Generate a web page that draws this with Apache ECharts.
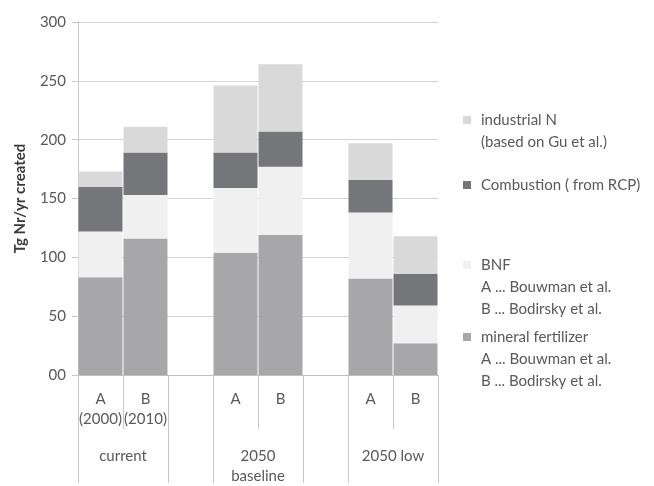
<!DOCTYPE html>
<html>
<head>
<meta charset="utf-8">
<script src="https://cdn.jsdelivr.net/npm/echarts@6/dist/echarts.min.js"></script>
<style>
  html, body { margin: 0; padding: 0; background: #fff; }
  #chart { width: 654px; height: 486px; }
</style>
</head>
<body>
<div id="chart"></div>
<script>
// bar slots: two per scenario, an empty slot between scenarios
var categories = ["A\n(2000)", "B\n(2010)", "", "A", "B", "", "A", "B"];
var groups = ["current", "2050\nbaseline", "2050 low"];
var groupCenters = [1, 4, 7];
var groupEdges = [0, 2, 3, 5, 6, 8];

var mineral = [83, 116, null, 104, 119, null, 82, 27];
var bnf = [39, 37, null, 55, 58, null, 56, 32];
var combustion = [38, 36, null, 30, 30, null, 28, 27];
var industrial = [13, 22, null, 57, 57, null, 31, 32];

var yTicks = [0, 50, 100, 150, 200, 250, 300];

var textColor = "#595959";
var font = "Lato";

var myChart = echarts.init(document.getElementById("chart"));

function barSeries(name, data, color) {
  return {
    name: name,
    type: "bar",
    stack: "total",
    data: data,
    barWidth: 44,
    itemStyle: { color: color },
    emphasis: { disabled: true }
  };
}

// legend drawn by hand so the square sits on the first text line
var legendItems = [
  { lines: ["industrial N", "(based on Gu et al.)"], color: "#d9d9da", top: 120 },
  { lines: ["Combustion ( from RCP)"], color: "#757679", top: 185 },
  { lines: ["BNF", "A ... Bouwman et al.", "B ... Bodirsky et al."], color: "#f0f0f1", top: 265 },
  { lines: ["mineral fertilizer", "A ... Bouwman et al.", "B ... Bodirsky et al."], color: "#a7a7a9", top: 337 }
];
var graphics = [];
legendItems.forEach(function(it) {
  graphics.push({
    type: "rect",
    left: 463,
    top: it.top - 4,
    shape: { width: 8, height: 8 },
    style: { fill: it.color }
  });
  graphics.push({
    type: "text",
    left: 481,
    top: it.top - 11,
    style: {
      text: it.lines.join("\n"),
      font: "15px " + font,
      lineHeight: 22,
      fill: textColor
    }
  });
});

var option = {
  animation: false,
  textStyle: { fontFamily: font },
  grid: { left: 78, right: 216, top: 22, bottom: 108 },
  xAxis: [
    {
      type: "category",
      data: categories,
      axisLine: { show: true, lineStyle: { color: "#bfbfbf" } },
      axisTick: { show: true, length: 54, lineStyle: { color: "#c8c8c8" } },
      axisLabel: {
        interval: 0,
        margin: 14,
        color: textColor,
        fontSize: 15,
        lineHeight: 20,
        fontFamily: font
      }
    },
    {
      type: "value",
      position: "bottom",
      min: 0,
      max: 8,
      axisLine: { show: false },
      splitLine: { show: false },
      axisTick: {
        show: true,
        length: 108,
        customValues: groupEdges,
        lineStyle: { color: "#c8c8c8" }
      },
      axisLabel: {
        customValues: groupCenters,
        margin: 71,
        color: textColor,
        fontSize: 15,
        lineHeight: 20,
        fontFamily: font,
        formatter: function(v) {
          return groups[groupCenters.indexOf(v)];
        }
      }
    }
  ],
  yAxis: {
    type: "value",
    min: 0,
    max: 300,
    interval: 50,
    name: "Tg Nr/yr created",
    nameLocation: "middle",
    nameGap: 50,
    nameTextStyle: { color: "#3a3a3a", fontSize: 15, fontWeight: "bold", fontFamily: font },
    axisLine: { show: true, lineStyle: { color: "#c8c8c8" } },
    axisTick: { show: true, length: 6, lineStyle: { color: "#c8c8c8" } },
    splitLine: { lineStyle: { color: "#d4d4d4" } },
    axisLabel: {
      margin: 12,
      color: textColor,
      fontSize: 15,
      fontFamily: font,
      formatter: function(v) {
        return v === yTicks[0] ? "00" : String(v);
      }
    }
  },
  graphic: graphics,
  series: [
    barSeries("mineral fertilizer", mineral, "#a7a7a9"),
    barSeries("BNF", bnf, "#f0f0f1"),
    barSeries("Combustion ( from RCP)", combustion, "#757679"),
    barSeries("industrial N", industrial, "#d9d9da")
  ]
};

myChart.setOption(option);
</script>
</body>
</html>
